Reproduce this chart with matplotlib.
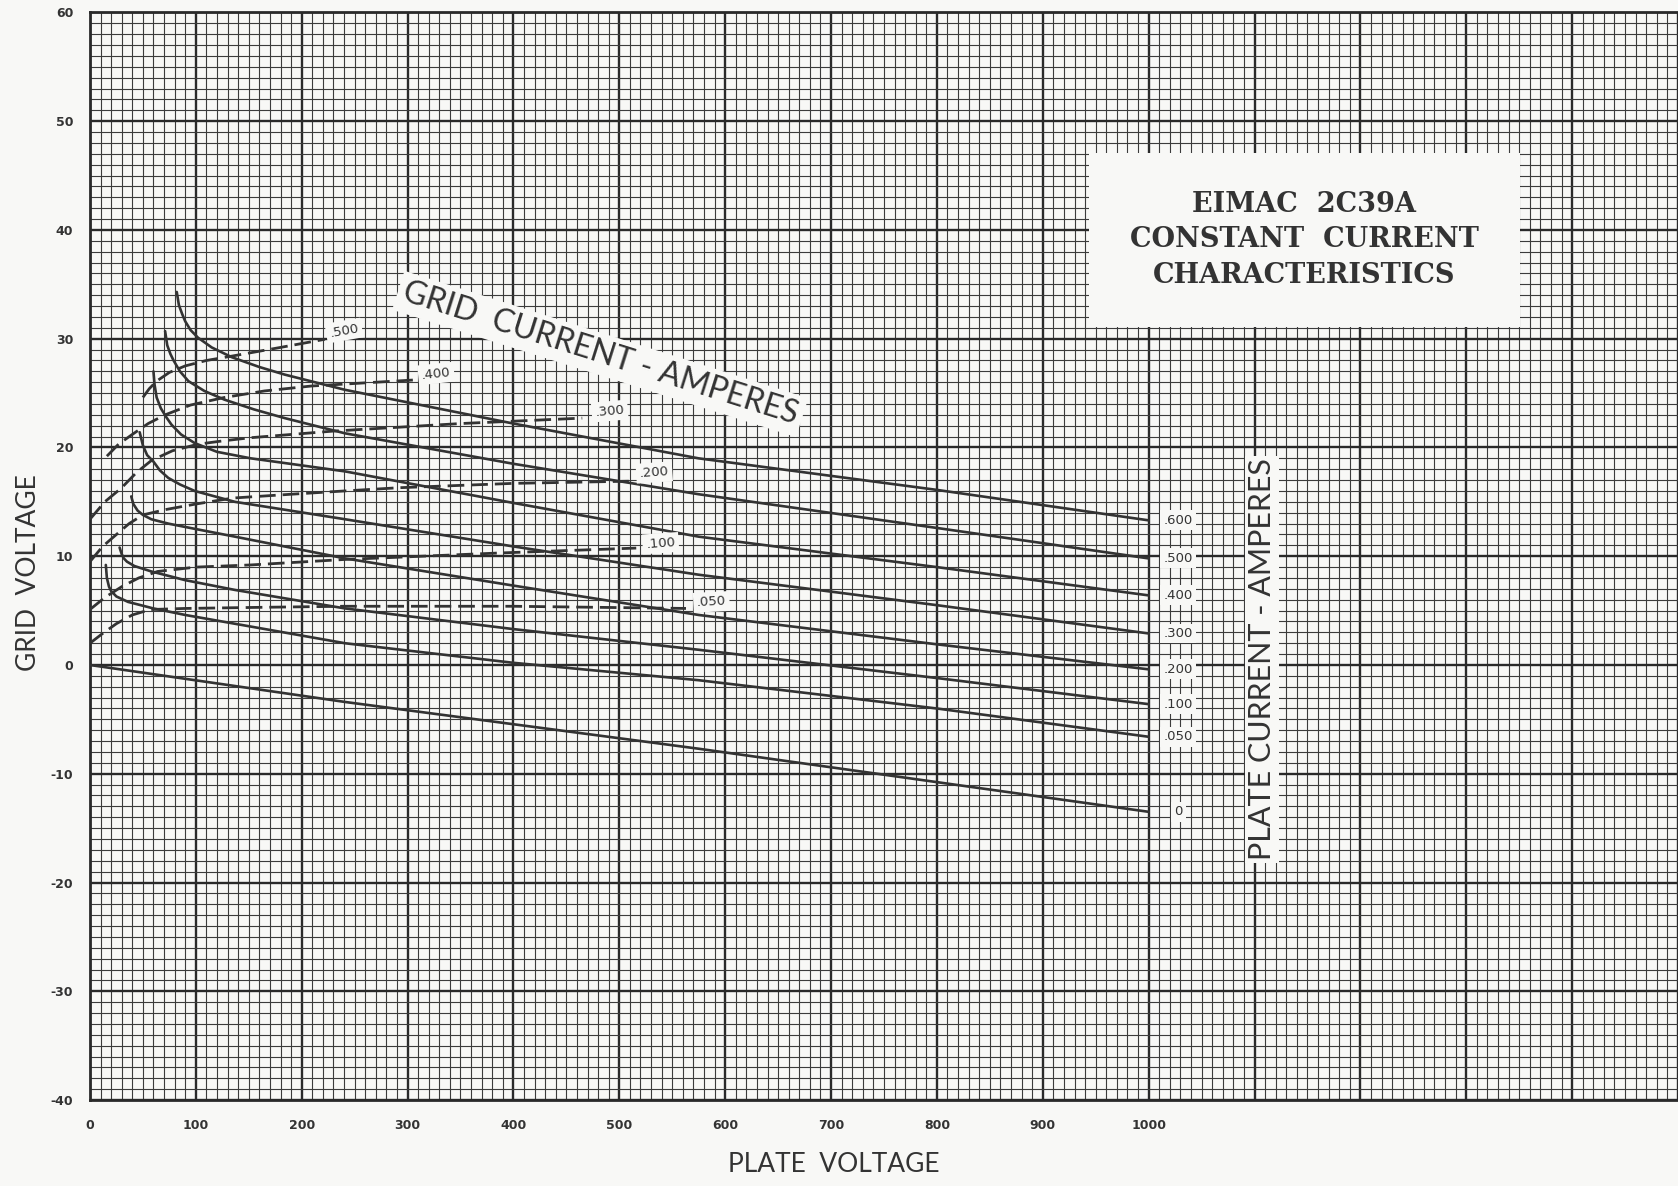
import numpy as np
import matplotlib.pyplot as plt

plt.rcParams["axes.unicode_minus"] = False

# plate current curves (solid), plate voltage vs grid voltage
plate_labels = [".600", ".500", ".400", ".300", ".200", ".100", ".050", "0"]
plate_x = [
    [82, 84, 87, 90, 95, 102, 115, 134, 160, 184, 241, 400, 575, 800, 1000],
    [71, 73, 76, 79, 85, 93, 108, 127, 155, 184, 241, 400, 575, 800, 1000],
    [60, 61, 63, 67, 72, 77, 86, 99, 120, 152, 241, 400, 575, 800, 1000],
    [47, 50, 54, 60, 66, 74, 85, 99, 137, 241, 400, 575, 800, 1000],
    [39, 41, 45, 50, 58, 74, 100, 137, 241, 400, 575, 800, 1000],
    [28, 30, 32, 35, 42, 58, 90, 137, 241, 400, 575, 800, 1000],
    [15, 16, 18, 20, 25, 36, 60, 90, 241, 400, 575, 800, 1000],
    [0, 241, 575, 1000],
]
plate_y = [
    [34.3, 33.1, 32.3, 31.6, 30.8, 30.1, 29.2, 28.3, 27.4, 26.7, 25.3, 22.2, 19.0, 16.1, 13.3],
    [30.7, 29.4, 28.6, 28.0, 27.0, 26.1, 25.2, 24.4, 23.5, 22.7, 21.3, 18.5, 15.7, 12.6, 9.8],
    [27.0, 25.8, 24.6, 23.6, 22.8, 22.1, 21.2, 20.4, 19.6, 19.0, 17.8, 14.9, 11.8, 9.0, 6.4],
    [21.4, 20.2, 19.3, 18.7, 17.9, 17.2, 16.6, 16.0, 15.0, 13.4, 10.9, 8.3, 5.5, 2.9],
    [15.5, 14.8, 14.2, 13.8, 13.4, 13.0, 12.5, 11.8, 9.8, 7.3, 4.6, 1.9, -0.4],
    [10.8, 10.2, 9.8, 9.5, 9.1, 8.6, 7.8, 6.9, 5.2, 3.3, 1.4, -1.2, -3.6],
    [9.2, 8.0, 7.2, 6.8, 6.3, 5.8, 5.2, 4.6, 2.0, 0.2, -1.4, -4.0, -6.6],
    [0.0, -3.4, -7.7, -13.5],
]

# grid current curves (dashed)
grid_labels = [".500", ".400", ".300", ".200", ".100", ".050"]
grid_x = [
    [50, 56, 63, 75, 90, 110, 134, 180, 222],
    [16, 27, 40, 55, 71, 95, 127, 165, 209, 305],
    [0, 14, 30, 44, 58, 78, 102, 125, 152, 229, 350, 465],
    [0, 12, 25, 37, 50, 72, 100, 135, 190, 240, 292, 400, 509],
    [0, 14, 30, 46, 64, 100, 152, 240, 387, 516],
    [0, 12, 25, 40, 57, 90, 160, 240, 400, 563],
]
grid_y = [
    [24.6, 25.4, 26.1, 26.9, 27.5, 28.0, 28.4, 29.2, 29.95],
    [19.2, 20.3, 21.2, 22.2, 23.0, 23.9, 24.6, 25.2, 25.65, 26.2],
    [13.4, 15.0, 16.3, 17.7, 18.8, 19.7, 20.3, 20.6, 20.9, 21.5, 22.2, 22.7],
    [9.5, 10.9, 12.0, 13.0, 13.8, 14.3, 14.8, 15.35, 15.7, 16.0, 16.3, 16.7, 16.9],
    [5.1, 6.2, 7.2, 8.0, 8.6, 9.0, 9.2, 9.7, 10.3, 10.75],
    [2.0, 2.9, 3.8, 4.6, 5.1, 5.2, 5.3, 5.4, 5.4, 5.2],
]
grid_label_pos = [(240, 30.75), (327, 26.8), (491, 23.35), (533, 17.7), (539, 11.2), (587, 5.8)]
grid_label_rot = [10, 6, 5, 4, 4, 3]

x_ticks = np.arange(0, 1501, 100)
y_ticks = np.arange(-40, 61, 10)

ink = "#333333"
paper = "#f8f8f6"

fig = plt.figure(figsize=(16.78, 11.86), dpi=100, facecolor=paper)
ax = fig.add_axes([0.0536, 0.0725, 0.9464, 0.917])
ax.set_facecolor(paper)
ax.set_xlim(0, 1498)
ax.set_ylim(-40, 60)

ax.set_xticks(x_ticks)
ax.set_xticklabels([str(v) if v <= 1000 else "" for v in x_ticks])
ax.set_xticks(np.arange(0, 1501, 10), minor=True)
ax.set_yticks(y_ticks)
ax.set_yticks(np.arange(-40, 61, 1), minor=True)
ax.grid(which="major", color="#2a2a2a", lw=1.7)
ax.grid(which="minor", color="#3c3c3c", lw=0.8)
ax.set_axisbelow(True)
ax.tick_params(which="both", length=0, labelsize=9, colors=ink)
ax.tick_params(axis="x", pad=14)
ax.tick_params(axis="y", pad=12)
for lab in ax.get_xticklabels() + ax.get_yticklabels():
    lab.set_fontweight("bold")
for s in ax.spines.values():
    s.set_color("#2a2a2a")
    s.set_linewidth(2)
ax.spines["right"].set_visible(False)

# curves
for xs, ys, lab in zip(plate_x, plate_y, plate_labels):
    ax.plot(xs, ys, color=ink, lw=1.9, solid_capstyle="round", solid_joinstyle="round", zorder=3)
    ax.text(1028, ys[-1], lab, fontsize=9.5, color=ink, ha="center", va="center",
            zorder=5, bbox=dict(facecolor=paper, edgecolor="none", pad=2.5))

for xs, ys, lab, pos, rot in zip(grid_x, grid_y, grid_labels, grid_label_pos, grid_label_rot):
    ax.plot(xs, ys, color=ink, lw=2.0, ls=(0, (6, 2.5)), zorder=3)
    ax.text(pos[0], pos[1], lab, fontsize=9.5, color=ink, ha="center", va="center",
            rotation=rot, zorder=5, bbox=dict(facecolor=paper, edgecolor="none", pad=2.5))

# big labels
ax.text(482, 28.6, "GRID  CURRENT - AMPERES", fontsize=23, family="Lato", color=ink,
        rotation=-17.5, ha="center", va="center", rotation_mode="anchor", zorder=6,
        bbox=dict(facecolor=paper, edgecolor="none", pad=4))
ax.text(1107, 0.5, "PLATE CURRENT - AMPERES", fontsize=22, family="Lato", color=ink,
        rotation=90, ha="center", va="center", zorder=6,
        bbox=dict(facecolor=paper, edgecolor="none", pad=2))

# title panel
ax.add_patch(plt.Rectangle((944, 31.1), 407, 16.0, facecolor=paper, edgecolor="none", zorder=4))
ax.text(1147, 39.1, "EIMAC  2C39A\nCONSTANT  CURRENT\nCHARACTERISTICS", fontsize=19.5,
        family="DejaVu Serif", fontweight="bold", color=ink, ha="center", va="center",
        linespacing=1.4, zorder=6)

fig.text(0.017, 0.517, "GRID  VOLTAGE", fontsize=19, family="Lato", color=ink,
         rotation=90, ha="center", va="center")
fig.text(0.497, 0.018, "PLATE  VOLTAGE", fontsize=19, family="Lato", color=ink,
         ha="center", va="center")

fig.savefig("out.png", dpi=100, facecolor=paper)
